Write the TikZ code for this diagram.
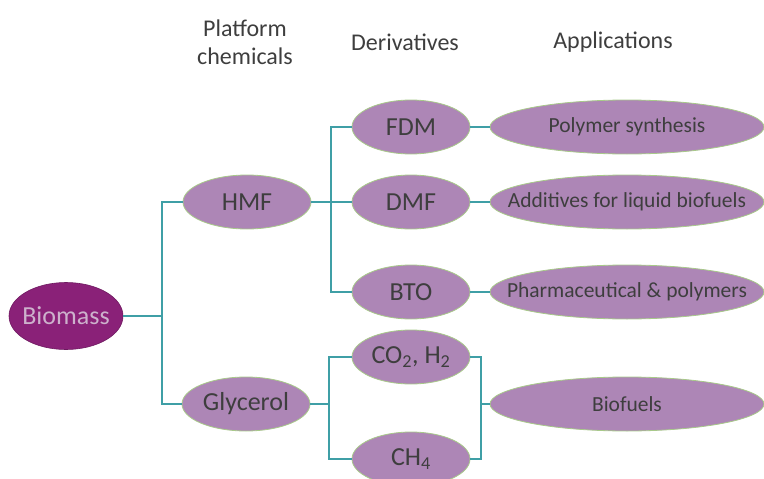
\documentclass[tikz,border=0pt]{standalone}
\usepackage{fontspec}
\setmainfont{Carlito}
\usetikzlibrary{shapes.geometric}
\definecolor{lilac}{HTML}{AD86B6}
\definecolor{plum}{HTML}{8A2178}
\definecolor{rim}{HTML}{A8C98A}
\definecolor{teal}{HTML}{3F9FA6}
\definecolor{ink}{HTML}{3E3E3E}
\definecolor{pale}{HTML}{CDB1CC}
\tikzset{
  x=1pt, y=-1pt,
  oval/.style={ellipse, fill=lilac, draw=rim, line width=0.8pt, inner sep=0pt,
    label={[text=ink, font=\fontsize{26}{28}\selectfont]center:#1}},
  small/.style={minimum width=118pt, minimum height=54pt},
  mid/.style={minimum width=128pt, minimum height=54pt},
  wide/.style={minimum width=274pt, minimum height=54pt,
    label={[text=ink, font=\fontsize{21.5}{23}\selectfont]center:#1}},
  link/.style={draw=teal, line width=1.2pt},
  head/.style={text=ink, font=\fontsize{24}{28}\selectfont, align=center}
}
\begin{document}
\begin{tikzpicture}
\useasboundingbox (0,0) rectangle (764,479);
% headers
\node[head] (h1) at (245,42) {Platform\\chemicals};
\node[head] (h2) at (405,42) {Derivatives};
\node[head] (h3) at (613,42) {Applications};
% nodes
\node[ellipse, fill=plum, draw=plum!80!black, line width=0.6pt, minimum width=114pt, minimum height=67pt, inner sep=0pt,
  label={[text=pale, font=\fontsize{26}{28}\selectfont]center:Biomass}] (bio) at (66,316) {};
\node[oval=HMF, mid] (hmf) at (247,202) {};
\node[oval=Glycerol, mid] (gly) at (246,404) {};
\node[oval=FDM, small] (fdm) at (411,127) {};
\node[oval=DMF, small] (dmf) at (411,202) {};
\node[oval=BTO, small] (bto) at (411,292) {};
\node[oval={CO\textsubscript{2}, H\textsubscript{2}}, small] (co) at (411,357) {};
\node[oval={CH\textsubscript{4}}, small] (ch) at (411,459) {};
\node[oval, wide=Polymer synthesis] (poly) at (627,127) {};
\node[oval, wide=Additives for liquid biofuels] (add) at (627,202) {};
\node[oval, wide=Pharmaceutical \& polymers] (pha) at (627,292) {};
\node[oval, wide=Biofuels] (bf) at (627,404) {};
% junctions
\coordinate (j1) at (162,316);
\coordinate (j2) at (331,202);
\coordinate (j3) at (329,404);
\coordinate (j4) at (481,404);
% connectors
\draw[link] (bio.east) -- (j1);
\draw[link] (j1) |- (hmf.west);
\draw[link] (j1) |- (gly.west);
\draw[link] (hmf.east) -- (j2);
\draw[link] (j2) |- (fdm.west);
\draw[link] (j2) -- (dmf.west);
\draw[link] (j2) |- (bto.west);
\draw[link] (gly.east) -- (j3);
\draw[link] (j3) |- (co.west);
\draw[link] (j3) |- (ch.west);
\draw[link] (fdm.east) -- (poly.west);
\draw[link] (dmf.east) -- (add.west);
\draw[link] (bto.east) -- (pha.west);
\draw[link] (co.east) -| (j4);
\draw[link] (ch.east) -| (j4);
\draw[link] (j4) -- (bf.west);
\end{tikzpicture}
\end{document}
